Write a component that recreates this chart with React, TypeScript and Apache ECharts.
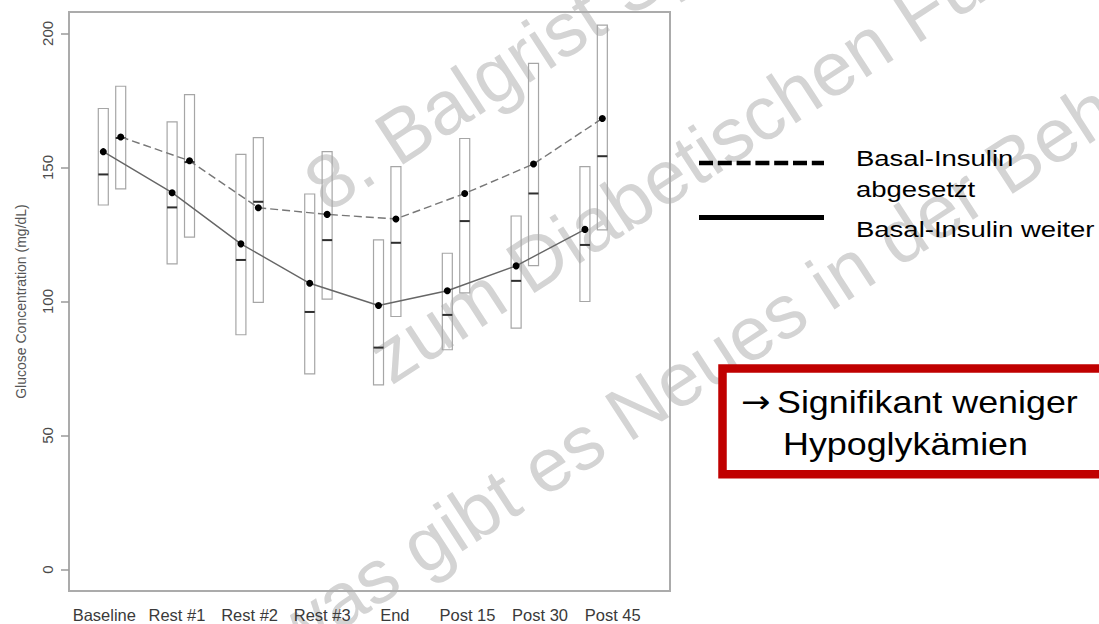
import React, { useEffect, useRef } from 'react';
import * as echarts from 'echarts';

// Time points
const categories = ['Baseline', 'Rest #1', 'Rest #2', 'Rest #3', 'End', 'Post 15', 'Post 30', 'Post 45'];

// Basal-Insulin weiter (solid line, left box of each pair)
const weiterHigh = [172.0, 167.0, 154.9, 140.1, 123.0, 118.0, 131.9, 150.3];
const weiterLow = [136.0, 114.0, 87.6, 73.0, 68.9, 82.0, 90.1, 100.0];
const weiterMedian = [147.4, 135.1, 115.5, 96.1, 82.8, 95.0, 107.7, 121.1];
const weiterMean = [155.9, 140.6, 121.5, 106.8, 98.5, 104.0, 113.3, 126.9];

// Basal-Insulin abgesetzt (dashed line, right box of each pair)
const abgesetztHigh = [180.3, 177.2, 161.1, 155.9, 150.3, 160.8, 188.8, 203.1];
const abgesetztLow = [142.0, 124.0, 99.7, 100.9, 94.4, 103.2, 113.4, 126.7];
const abgesetztMedian = [161.0, 152.0, 137.2, 122.9, 121.9, 130.0, 140.3, 154.2];
const abgesetztMean = [161.4, 152.5, 135.0, 132.5, 130.8, 140.3, 151.3, 168.3];

// y axis: ticks 0..200 every 50, plot range padded by 4 % on both ends
const yTickMin = 0;
const yTickMax = 200;
const yTickStep = 50;
const yPad = 8;

const legendDashed = ['Basal-Insulin', 'abgesetzt'];
const legendSolid = 'Basal-Insulin weiter';
const calloutArrow = '\u2192';
const calloutLines = ['Signifikant weniger', 'Hypoglyk\u00e4mien'];
const watermarkLines = [
  '8. Balgrist Symposium',
  'zum Diabetischen Fuss',
  'was gibt es Neues in der Behandlung?',
];

const FONT = '"Liberation Sans", Arial, Helvetica, sans-serif';
const PAIR_OFFSET = 0.1265; // half distance between the two boxes of a time point
const BOX_WIDTH = 10;

// plot frame in pixels
const PLOT_LEFT = 69;
const PLOT_RIGHT = 429;
const PLOT_TOP = 12;
const PLOT_BOTTOM = 33;
const PLOT_H = 624 - PLOT_TOP - PLOT_BOTTOM;
const padPx = (yPad / (yTickMax - yTickMin + 2 * yPad)) * PLOT_H;

const boxData = (low: number[], high: number[], med: number[], shift: number) =>
  categories.map((_, i) => [i + shift, low[i], high[i], med[i]]);
const meanData = (mean: number[], shift: number) =>
  categories.map((_, i) => [i + shift, mean[i]]);

const renderBox = (params: any, api: any) => {
  const x = api.value(0);
  const top = api.coord([x, api.value(2)]);
  const bot = api.coord([x, api.value(1)]);
  const med = api.coord([x, api.value(3)]);
  const half = BOX_WIDTH / 2;
  return {
    type: 'group',
    children: [
      {
        type: 'rect',
        shape: { x: top[0] - half, y: top[1], width: BOX_WIDTH, height: bot[1] - top[1] },
        style: { fill: 'transparent', stroke: '#a6a6a6', lineWidth: 1.2 },
      },
      {
        type: 'line',
        shape: { x1: med[0] - half, y1: med[1], x2: med[0] + half, y2: med[1] },
        style: { stroke: '#2e2e2e', lineWidth: 2 },
      },
    ],
  };
};

const rot = (33 * Math.PI) / 180;
const wmStyle = (text: string) => ({
  text,
  fontSize: 76,
  fontFamily: FONT,
  fill: '#d4d4d4',
  align: 'left',
  verticalAlign: 'middle',
  textAlign: 'left',
  textVerticalAlign: 'middle',
});

const txt = (text: string, x: number, y: number, fontSize: number, scaleX: number, family = FONT) => ({
  type: 'text',
  x,
  y,
  scaleX,
  z: 20,
  silent: true,
  style: {
    text,
    fontSize,
    fontFamily: family,
    fill: '#000',
    align: 'left',
    verticalAlign: 'middle',
    textAlign: 'left',
    textVerticalAlign: 'middle',
  },
});

const option: any = {
  animation: false,
  backgroundColor: '#ffffff',
  textStyle: { fontFamily: FONT },
  grid: [
    {
      left: PLOT_LEFT,
      right: PLOT_RIGHT,
      top: PLOT_TOP,
      bottom: PLOT_BOTTOM,
      show: true,
      borderColor: '#ababab',
      borderWidth: 2,
      backgroundColor: 'transparent',
    },
    // category labels under the plot
    { left: 68, width: 581, top: PLOT_TOP, bottom: PLOT_BOTTOM },
    // tick axis 0..200, inset by the padding
    { left: PLOT_LEFT, right: PLOT_RIGHT, top: PLOT_TOP + padPx, bottom: PLOT_BOTTOM + padPx },
  ],
  xAxis: [
    { type: 'value', gridIndex: 0, min: -0.625, max: 8.11, show: false },
    {
      type: 'category',
      gridIndex: 1,
      data: categories,
      boundaryGap: true,
      axisLine: { show: false },
      axisTick: { show: false },
      splitLine: { show: false },
      axisLabel: { fontSize: 16.5, color: '#3a3a3a', margin: 15, interval: 0 },
    },
    { type: 'value', gridIndex: 2, show: false },
  ],
  yAxis: [
    { type: 'value', gridIndex: 0, min: yTickMin - yPad, max: yTickMax + yPad, show: false },
    { type: 'value', gridIndex: 1, show: false },
    {
      type: 'value',
      gridIndex: 2,
      min: yTickMin,
      max: yTickMax,
      interval: yTickStep,
      axisLine: { show: false },
      splitLine: { show: false },
      axisTick: { show: true, length: 8, lineStyle: { color: '#9a9a9a', width: 1.5 } },
      axisLabel: { rotate: 90, fontSize: 15, color: '#4a4a4a', margin: 14 },
      name: 'Glucose Concentration (mg/dL)',
      nameLocation: 'middle',
      nameRotate: 90,
      nameGap: 41,
      nameTextStyle: { fontSize: 14, color: '#555' },
    },
  ],
  series: [
    {
      type: 'custom',
      name: 'weiter boxes',
      xAxisIndex: 0,
      yAxisIndex: 0,
      renderItem: renderBox,
      encode: { x: 0, y: [1, 2, 3] },
      data: boxData(weiterLow, weiterHigh, weiterMedian, -PAIR_OFFSET),
      z: 2,
    },
    {
      type: 'custom',
      name: 'abgesetzt boxes',
      xAxisIndex: 0,
      yAxisIndex: 0,
      renderItem: renderBox,
      encode: { x: 0, y: [1, 2, 3] },
      data: boxData(abgesetztLow, abgesetztHigh, abgesetztMedian, PAIR_OFFSET),
      z: 2,
    },
    {
      type: 'line',
      name: 'Basal-Insulin weiter',
      xAxisIndex: 0,
      yAxisIndex: 0,
      data: meanData(weiterMean, -PAIR_OFFSET),
      symbol: 'circle',
      symbolSize: 7,
      itemStyle: { color: '#000' },
      lineStyle: { color: '#666', width: 1.4, type: 'solid' },
      z: 3,
    },
    {
      type: 'line',
      name: 'Basal-Insulin abgesetzt',
      xAxisIndex: 0,
      yAxisIndex: 0,
      data: meanData(abgesetztMean, PAIR_OFFSET),
      symbol: 'circle',
      symbolSize: 7,
      itemStyle: { color: '#000' },
      lineStyle: { color: '#777', width: 1.4, type: [8, 4] },
      z: 3,
    },
  ],
  graphic: {
    elements: [
      // watermark
      { type: 'text', x: 312.7, y: 191.9, rotation: rot, z: -5, silent: true, style: wmStyle(watermarkLines[0]) },
      { type: 'text', x: 376.7, y: 363.9, rotation: rot, z: -5, silent: true, style: wmStyle(watermarkLines[1]) },
      { type: 'text', x: 277.3, y: 639.9, rotation: rot, z: -5, silent: true, style: wmStyle(watermarkLines[2]) },
      // legend
      {
        type: 'line',
        z: 20,
        silent: true,
        shape: { x1: 699, y1: 163, x2: 824, y2: 163 },
        style: { stroke: '#000', lineWidth: 4.7, lineDash: [14, 4.8] },
      },
      {
        type: 'line',
        z: 20,
        silent: true,
        shape: { x1: 699, y1: 217.5, x2: 824, y2: 217.5 },
        style: { stroke: '#000', lineWidth: 5 },
      },
      txt(legendDashed[0], 856, 158, 22, 1.25),
      txt(legendDashed[1], 856, 189, 22, 1.25),
      txt(legendSolid, 856, 229.4, 22, 1.25),
      // callout box
      {
        type: 'rect',
        z: 15,
        silent: true,
        shape: { x: 722.5, y: 368.5, width: 500, height: 105.7 },
        style: { fill: '#fff', stroke: '#c00000', lineWidth: 8.5 },
      },
      txt(calloutArrow, 741, 402, 32, 1.1, '"DejaVu Sans", sans-serif'),
      txt(calloutLines[0], 777, 401.6, 32, 1.12),
      txt(calloutLines[1], 783, 443.9, 32, 1.12),
    ],
  },
};

export default function App() {
  const ref = useRef<HTMLDivElement>(null);
  useEffect(() => {
    if (!ref.current) return;
    const chart = echarts.init(ref.current, null, { renderer: 'svg' });
    chart.setOption(option);
    return () => chart.dispose();
  }, []);
  return (
    <div
      ref={ref}
      style={{ position: 'fixed', left: 0, top: 0, width: 1099, height: 624, background: '#fff' }}
    />
  );
}
